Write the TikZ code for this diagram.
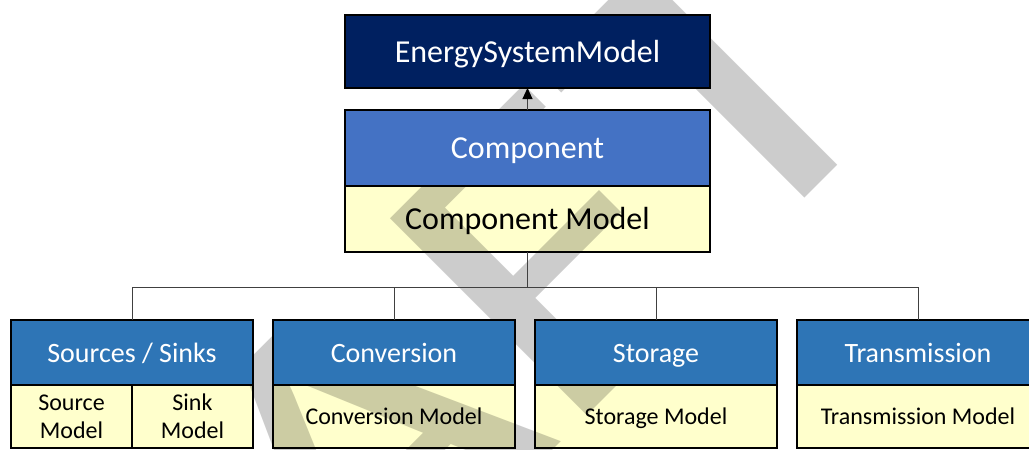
\documentclass[tikz,border=0pt]{standalone}
\usepackage{fontspec}
\setmainfont{Carlito}
\usetikzlibrary{positioning}
\usetikzlibrary{arrows.meta}
\definecolor{esmblue}{RGB}{0,32,96}
\definecolor{compblue}{RGB}{68,114,196}
\definecolor{catblue}{RGB}{46,117,182}
\definecolor{modelyellow}{RGB}{255,255,204}
\definecolor{wmgray}{RGB}{204,204,204}
\definecolor{linegray}{RGB}{64,64,64}
\tikzset{
    box/.style = {rectangle, draw=black, line width=2pt, outer sep=0pt, inner sep=0pt},
    topnode/.style = {box, fill=esmblue, text=white, minimum width=365pt, minimum height=73pt, font=\fontsize{32}{38}\selectfont, text height=21.8pt, text depth=0pt},
    compnode/.style = {box, fill=compblue, text=white, minimum width=365pt, minimum height=76pt, font=\fontsize{32}{38}\selectfont, text height=21.8pt, text depth=0pt},
    compmodelnode/.style = {box, fill=modelyellow, blend mode=multiply, minimum width=365pt, minimum height=66pt, font=\fontsize{32}{38}\selectfont, text height=21.8pt, text depth=0pt},
    catnode/.style = {box, fill=catblue, text=white, minimum width=242pt, minimum height=65pt, font=\fontsize{28}{34}\selectfont, text height=19pt, text depth=0pt},
    modelbox/.style = {box, fill=modelyellow, blend mode=multiply, minimum height=63pt, font=\fontsize{24}{28}\selectfont},
    modelnode/.style = {modelbox, minimum width=242pt, text height=16.3pt, text depth=0pt},
    halfnode/.style = {modelbox, minimum width=121pt, align=center},
    link/.style = {draw=linegray, line width=1pt},
    inherit/.style = {link, -{Triangle[length=11pt,width=10pt,black]}},
    watermark/.style = {text=wmgray, font=\fontsize{434}{434}\selectfont, rotate=45, xscale=1.2, anchor=base west, inner sep=0pt},
}
\begin{document}
\begin{tikzpicture}[x=1pt,y=-1pt]
\useasboundingbox (0,0) rectangle (1029,450);
\clip (0,0) rectangle (1029,450);
% watermark behind everything
\node[watermark] (draft) at (-77.4,1080.4) {DRAFT};
%
\node[topnode] (esm) at (527.5,51.5) {EnergySystemModel};
\node[compnode] (comp) at (527.5,148) {Component};
\node[compmodelnode, below=0pt of comp] (compmodel) {Component Model};
%
\node[catnode] (src) at (132,352.5) {Sources / Sinks};
\node[catnode] (conv) at (394,352.5) {Conversion};
\node[catnode] (stor) at (656,352.5) {Storage};
\node[catnode] (trans) at (918,352.5) {Transmission};
\node[halfnode, below right=0pt of src.south west] (srcmodel) {Source\\Model};
\node[halfnode, right=0pt of srcmodel] (sinkmodel) {Sink\\Model};
\node[modelnode, below=0pt of conv] (convmodel) {Conversion Model};
\node[modelnode, below=0pt of stor] (stormodel) {Storage Model};
\node[modelnode, below=0pt of trans] (transmodel) {Transmission Model};
%
\coordinate (bus) at (527.5,287);
\draw[inherit] (comp.north) -- (esm.south);
\draw[link] (compmodel.south) -- (bus);
\draw[link] (bus) -| (src.north);
\draw[link] (bus) -| (conv.north);
\draw[link] (bus) -| (stor.north);
\draw[link] (bus) -| (trans.north);
\end{tikzpicture}
\end{document}
